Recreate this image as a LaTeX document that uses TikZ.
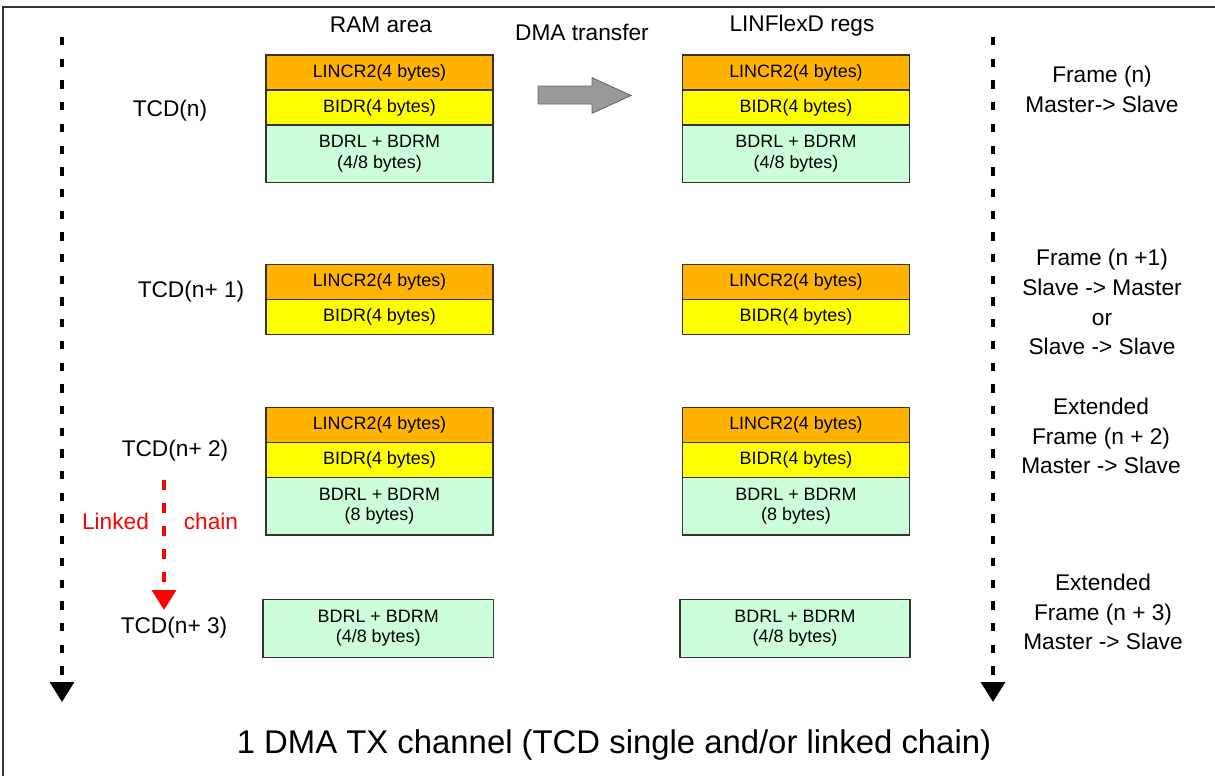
\documentclass[tikz,border=0pt]{standalone}
\usepackage{fontspec}
\setmainfont{Liberation Sans}
\usetikzlibrary{arrows.meta,positioning}
\definecolor{crorange}{RGB}{255,178,0}
\definecolor{idyellow}{RGB}{255,255,0}
\definecolor{drgreen}{RGB}{204,255,217}
\definecolor{xfergray}{RGB}{153,153,153}
\tikzset{
  regbox/.style={draw=black!80,line width=0.8pt,minimum width=45.4mm,inner sep=0pt,outer sep=0pt,
    font=\fontsize{10.2}{11.5}\selectfont,align=center},
  crbox/.style={regbox,fill=crorange,minimum height=7mm},
  idbox/.style={regbox,fill=idyellow,minimum height=7mm},
  drbox/.style={regbox,fill=drgreen,minimum height=11.5mm},
  lbl/.style={font=\fontsize{12.9}{17}\selectfont,align=center},
  timeline/.style={line width=1.9pt,dash pattern=on 1.67mm off 2.67mm,-{Triangle[length=4mm,width=4.8mm]}},
  linkline/.style={red,line width=1.9pt,dash pattern=on 2mm off 2.6mm,-{Triangle[length=4mm,width=4.8mm]}},
}
\begin{document}
\begin{tikzpicture}[x=0.2mm,y=-0.2mm]
\useasboundingbox (0,0) rectangle (1215,776);
% frame
\draw[line width=0.3mm,black!80] (1215,7) -- (3,7) -- (3,776);
% column headers
\node[lbl] (hram) at (381,25) {RAM area};
\node[lbl] (hdma) at (582,32) {DMA transfer};
\node[lbl] (hreg) at (802,26) {LINFlexD regs};
% DMA transfer arrow
\draw[fill=xfergray,draw=black!60,line width=0.5pt] (538,86) -- (592,86) -- (592,77.7) -- (631,95.5)
  -- (592,113.3) -- (592,104) -- (538,104) -- cycle;
% time lines
\coordinate (tlA) at (62,37); \coordinate (tlB) at (62,702);
\coordinate (trA) at (993,37); \coordinate (trB) at (993,702);
\draw[timeline] (tlA) -- (tlB);
\draw[timeline] (trA) -- (trB);
% TCD(n)
\node[lbl] (tcd0) at (170,111) {TCD(n)};
\node[crbox] (ram0cr) at (379.5,72.5) {LINCR2(4 bytes)};
\node[idbox,below=0pt of ram0cr] (ram0id) {BIDR(4 bytes)};
\node[drbox,below=0pt of ram0id] (ram0dr) {BDRL + BDRM\\(4/8 bytes)};
\node[crbox] (reg0cr) at (796,72.5) {LINCR2(4 bytes)};
\node[idbox,below=0pt of reg0cr] (reg0id) {BIDR(4 bytes)};
\node[drbox,below=0pt of reg0id] (reg0dr) {BDRL + BDRM\\(4/8 bytes)};
\node[lbl] (frm0) at (1102,89.5) {Frame (n)\\Master-> Slave};
% TCD(n+1)
\node[lbl] (tcd1) at (191,292) {TCD(n+ 1)};
\node[crbox] (ram1cr) at (379.5,281.8) {LINCR2(4 bytes)};
\node[idbox,below=0pt of ram1cr] (ram1id) {BIDR(4 bytes)};
\node[crbox] (reg1cr) at (796,281.8) {LINCR2(4 bytes)};
\node[idbox,below=0pt of reg1cr] (reg1id) {BIDR(4 bytes)};
\node[lbl] (frm1) at (1102,302) {Frame (n +1)\\Slave -> Master\\or\\Slave -> Slave};
% TCD(n+2)
\node[lbl] (tcd2) at (175,451) {TCD(n+ 2)};
\node[crbox] (ram2cr) at (379.5,425) {LINCR2(4 bytes)};
\node[idbox,below=0pt of ram2cr] (ram2id) {BIDR(4 bytes)};
\node[drbox,below=0pt of ram2id] (ram2dr) {BDRL + BDRM\\(8 bytes)};
\node[crbox] (reg2cr) at (796,425) {LINCR2(4 bytes)};
\node[idbox,below=0pt of reg2cr] (reg2id) {BIDR(4 bytes)};
\node[drbox,below=0pt of reg2id] (reg2dr) {BDRL + BDRM\\(8 bytes)};
\node[lbl] (frm2) at (1101,436) {Extended\\Frame (n + 2)\\Master -> Slave};
% linked chain
\coordinate (lkA) at (164,480); \coordinate (lkB) at (164,610);
\draw[linkline] (lkA) -- (lkB);
\node[lbl,red] (lkL) at (115.5,521) {Linked};
\node[lbl,red] (lkR) at (211,521) {chain};
% TCD(n+3)
\node[lbl] (tcd3) at (174,628) {TCD(n+ 3)};
\node[drbox,minimum width=46mm] (ram3dr) at (378.2,628.5) {BDRL + BDRM\\(4/8 bytes)};
\node[drbox,minimum width=46mm] (reg3dr) at (795,628.5) {BDRL + BDRM\\(4/8 bytes)};
\node[lbl] (frm3) at (1103,612) {Extended\\Frame (n + 3)\\Master -> Slave};
% caption
\node[font=\fontsize{18.7}{22}\selectfont] (cap) at (614,745) {1 DMA TX channel (TCD single and/or linked chain)};
\end{tikzpicture}
\end{document}
